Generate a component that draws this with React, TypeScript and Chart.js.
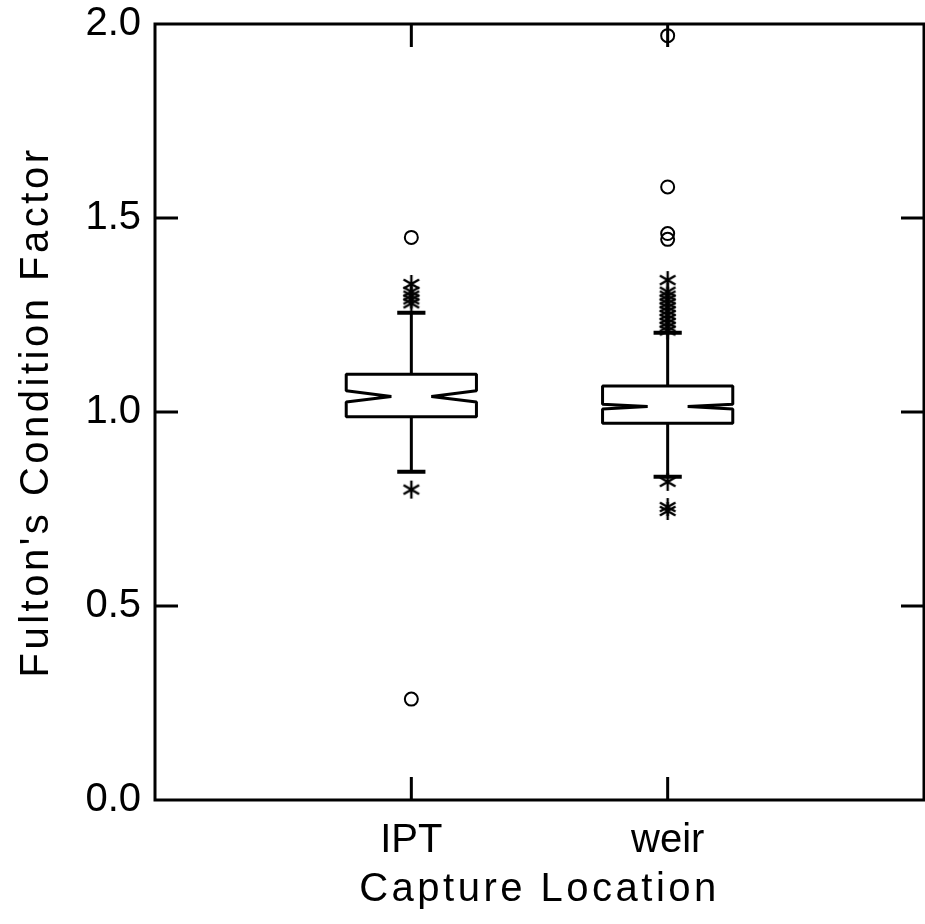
import React, { useEffect, useRef } from 'react';
import { Chart, registerables } from 'chart.js';

Chart.register(...registerables);

// ---- data ----
const categories = ['IPT', 'weir'];
const q1Values = [0.988, 0.971];
const medianValues = [1.04, 1.014];
const q3Values = [1.097, 1.067];
const lowerWhiskers = [0.846, 0.833];
const upperWhiskers = [1.256, 1.204];
const notchLower = [1.026, 1.008];
const notchUpper = [1.055, 1.02];
const iptStars = [1.33, 1.31, 1.3, 1.29, 1.28, 0.8];
const weirStars = [1.34, 1.31, 1.3, 1.29, 1.28, 1.27, 1.26, 1.25, 1.24, 1.23, 1.22, 1.21, 0.82, 0.755, 0.745];
const iptCircles = [1.45, 0.26];
const weirCircles = [1.97, 1.58, 1.46, 1.445];
const yTitle = "Fulton's Condition Factor";
const xTitle = 'Capture Location';

// ---- styling constants ----
const FONT = '"Liberation Sans", Arial, Helvetica, sans-serif';
const BOX_HALF = 0.254;
const NOTCH_HALF = 0.078;
const CAP_HALF = 0.055;
const TICK_LEN = 23;

function makeStar(r: number, lw: number): HTMLCanvasElement {
  const c = document.createElement('canvas');
  const s = Math.ceil(2 * r + 4);
  c.width = s;
  c.height = s;
  const g = c.getContext('2d')!;
  g.strokeStyle = '#000';
  g.lineWidth = lw;
  const cx = s / 2;
  const cy = s / 2;
  g.beginPath();
  for (const a of [90, 30, -30]) {
    const rad = (a * Math.PI) / 180;
    g.moveTo(cx - r * Math.cos(rad), cy - r * Math.sin(rad));
    g.lineTo(cx + r * Math.cos(rad), cy + r * Math.sin(rad));
  }
  g.stroke();
  return c;
}

const zeroPadding = (s: any) => {
  s.paddingTop = 0;
  s.paddingBottom = 0;
  s.paddingLeft = 0;
  s.paddingRight = 0;
};

const boxPlugin = {
  id: 'notchedBoxes',
  beforeDraw(chart: any) {
    chart.ctx.letterSpacing = '3.5px';
  },
  beforeDatasetsDraw(chart: any) {
    const ctx = chart.ctx as CanvasRenderingContext2D;
    (ctx as any).letterSpacing = '0px';
    const xs = chart.scales.x;
    const ys = chart.scales.y;
    categories.forEach((_, i) => {
      const c = i + 1;
      const L = xs.getPixelForValue(c - BOX_HALF);
      const R = xs.getPixelForValue(c + BOX_HALF);
      const nl = xs.getPixelForValue(c - NOTCH_HALF);
      const nr = xs.getPixelForValue(c + NOTCH_HALF);
      const xc = xs.getPixelForValue(c);
      const cl = xs.getPixelForValue(c - CAP_HALF);
      const cr = xs.getPixelForValue(c + CAP_HALF);
      const yq1 = ys.getPixelForValue(q1Values[i]);
      const yq3 = ys.getPixelForValue(q3Values[i]);
      const ym = ys.getPixelForValue(medianValues[i]);
      const ynl = ys.getPixelForValue(notchLower[i]);
      const ynu = ys.getPixelForValue(notchUpper[i]);
      const ylw = ys.getPixelForValue(lowerWhiskers[i]);
      const yuw = ys.getPixelForValue(upperWhiskers[i]);
      ctx.save();
      ctx.strokeStyle = '#000';
      ctx.lineWidth = 3;
      ctx.lineJoin = 'bevel';
      ctx.beginPath();
      ctx.moveTo(L, yq3);
      ctx.lineTo(R, yq3);
      ctx.lineTo(R, ynu);
      ctx.lineTo(nr, ym);
      ctx.lineTo(R, ynl);
      ctx.lineTo(R, yq1);
      ctx.lineTo(L, yq1);
      ctx.lineTo(L, ynl);
      ctx.lineTo(nl, ym);
      ctx.lineTo(L, ynu);
      ctx.closePath();
      ctx.stroke();
      // whiskers
      ctx.lineWidth = 3;
      ctx.beginPath();
      ctx.moveTo(xc, yq3);
      ctx.lineTo(xc, yuw);
      ctx.moveTo(xc, yq1);
      ctx.lineTo(xc, ylw);
      ctx.stroke();
      // caps
      ctx.lineWidth = 4;
      ctx.beginPath();
      ctx.moveTo(cl, yuw);
      ctx.lineTo(cr, yuw);
      ctx.moveTo(cl, ylw);
      ctx.lineTo(cr, ylw);
      ctx.stroke();
      ctx.restore();
    });
  },
  afterDraw(chart: any) {
    const ctx = chart.ctx as CanvasRenderingContext2D;
    const { left, right, top, bottom } = chart.chartArea;
    const xs = chart.scales.x;
    const ys = chart.scales.y;
    ctx.save();
    ctx.strokeStyle = '#000';
    ctx.lineWidth = 3;
    ctx.beginPath();
    ctx.rect(left, top, right - left, bottom - top);
    ctx.stroke();
    ctx.lineWidth = 3;
    ctx.beginPath();
    ys.ticks.forEach((t: any) => {
      if (t.value <= ys.min || t.value >= ys.max) return;
      const y = ys.getPixelForValue(t.value);
      ctx.moveTo(left, y);
      ctx.lineTo(left + TICK_LEN, y);
      ctx.moveTo(right, y);
      ctx.lineTo(right - TICK_LEN, y);
    });
    categories.forEach((_, i) => {
      const x = xs.getPixelForValue(i + 1);
      ctx.moveTo(x, top);
      ctx.lineTo(x, top + TICK_LEN);
      ctx.moveTo(x, bottom);
      ctx.lineTo(x, bottom - TICK_LEN);
    });
    ctx.stroke();
    ctx.restore();
  },
};

export default function App() {
  const ref = useRef<HTMLCanvasElement | null>(null);

  useEffect(() => {
    if (!ref.current) return;
    const star = makeStar(9, 2.4);
    const starData = [
      ...iptStars.map((v) => ({ x: 1, y: v })),
      ...weirStars.map((v) => ({ x: 2, y: v })),
    ];
    const circleData = [
      ...iptCircles.map((v) => ({ x: 1, y: v })),
      ...weirCircles.map((v) => ({ x: 2, y: v })),
    ];
    const chart = new Chart(ref.current, {
      type: 'scatter',
      data: {
        datasets: [
          {
            label: 'outside values',
            data: starData,
            pointStyle: star as any,
            pointRadius: 9,
            borderColor: '#000',
            backgroundColor: '#000',
            clip: false as any,
          },
          {
            label: 'far outside values',
            data: circleData,
            pointStyle: 'circle',
            pointRadius: 6.5,
            borderWidth: 2,
            borderColor: '#000',
            backgroundColor: 'rgba(0,0,0,0)',
            clip: false as any,
          },
        ],
      },
      options: {
        responsive: false,
        animation: false,
        devicePixelRatio: 1,
        events: [],
        layout: { autoPadding: false, padding: { top: 24, right: 1, left: 0, bottom: 0 } },
        plugins: {
          legend: { display: false },
          tooltip: { enabled: false },
          title: { display: false },
        },
        scales: {
          x: {
            type: 'linear',
            min: 0,
            max: 3,
            grid: { display: false, drawTicks: false },
            border: { display: false },
            ticks: {
              stepSize: 1,
              autoSkip: false,
              maxRotation: 0,
              padding: 17,
              z: 1,
              color: '#000',
              font: { family: FONT, size: 40 },
              callback: (v: any) => categories[Number(v) - 1] ?? '',
            },
            title: {
              display: true,
              text: xTitle,
              color: '#000',
              font: { family: FONT, size: 40 },
              padding: { top: 0, bottom: 10 },
            },
            afterFit: (s: any) => {
              s.height = 124;
              zeroPadding(s);
            },
          },
          y: {
            type: 'linear',
            min: 0,
            max: 2,
            grid: { display: false, drawTicks: false },
            border: { display: false },
            ticks: {
              stepSize: 0.5,
              padding: 14,
              z: 1,
              color: '#000',
              font: { family: FONT, size: 40 },
              callback: (v: any) => Number(v).toFixed(1),
            },
            title: {
              display: true,
              text: yTitle,
              color: '#000',
              font: { family: FONT, size: 40 },
              padding: { top: 13, bottom: 0 },
            },
            afterFit: (s: any) => {
              s.width = 155;
              zeroPadding(s);
            },
          },
        },
      },
      plugins: [boxPlugin],
    });
    return () => chart.destroy();
  }, []);

  return (
    <div style={{ position: 'fixed', left: 0, top: 0, width: 925, height: 924, background: '#fff' }}>
      <canvas ref={ref} width={925} height={924} style={{ display: 'block' }} />
    </div>
  );
}
